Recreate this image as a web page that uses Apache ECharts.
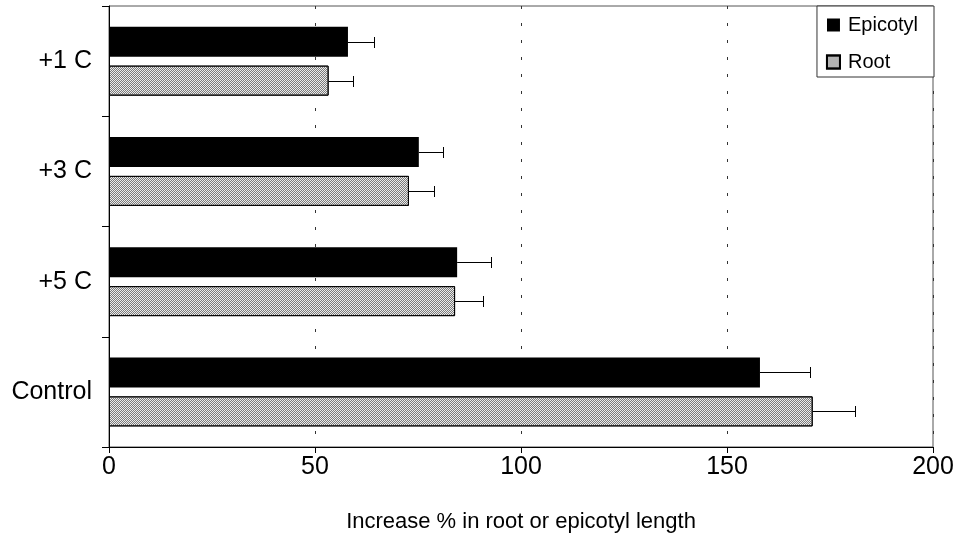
<!DOCTYPE html>
<html><head><meta charset="utf-8">
<script src="https://cdn.jsdelivr.net/npm/echarts@6/dist/echarts.min.js"></script>
<style>html,body{margin:0;padding:0;background:#fff}#c{width:957px;height:536px}</style>
</head><body><div id="c"></div><script>
const categories = ['Control', '+5 C', '+3 C', '+1 C'];
const epicotyl = [158.0, 84.5, 75.2, 58.0];
const epicotylErr = [12.2, 8.3, 5.9, 6.4];
const root = [170.8, 84.0, 72.8, 53.3];
const rootErr = [10.3, 6.7, 6.1, 6.0];
const seriesNames = ['Epicotyl', 'Root'];
const xAxisTitle = 'Increase % in root or epicotyl length';

const FONT = '"Liberation Sans", Arial, sans-serif';
const BAR_W = 30, GAP = 9;

function errSeries(name, vals, errs, sign) {
  return {
    type: 'custom', name: name + ' err', silent: true, z: 5,
    renderItem(params, api) {
      const cat = api.value(0), v = api.value(1), e = api.value(2);
      const c0 = api.coord([v, cat]);
      const c1 = api.coord([v + e, cat]);
      const y = Math.round(c0[1] + sign * (BAR_W + GAP) / 2) + 0.5;
      const xe = Math.round(c1[0]) + 0.5;
      const h = 5.5;
      return { type: 'group', children: [
        { type: 'line', shape: { x1: c0[0], y1: y, x2: xe, y2: y }, style: { stroke: '#000', lineWidth: 1 } },
        { type: 'line', shape: { x1: xe, y1: y - h, x2: xe, y2: y + h }, style: { stroke: '#000', lineWidth: 1 } }
      ]};
    },
    encode: { x: 1, y: 0 },
    data: vals.map((v, i) => [i, v, errs[i]])
  };
}

const chart = echarts.init(document.getElementById('c'), null, { renderer: 'canvas' });
chart.setOption({
  animation: false,
  backgroundColor: '#fff',
  textStyle: { fontFamily: FONT },
  grid: { left: 109, right: 24, top: 6, bottom: 89, containLabel: false, outerBoundsMode: 'none',
          show: true, borderColor: '#555', borderWidth: 1, backgroundColor: 'transparent' },
  legend: {
    orient: 'vertical', right: 23, top: 6,
    data: seriesNames,
    icon: 'rect', itemWidth: 13, itemHeight: 13, itemGap: 17,
    padding: [9, 16, 5, 9],
    backgroundColor: '#fff', borderColor: '#333', borderWidth: 1, borderRadius: 0,
    textStyle: { fontSize: 20, color: '#000', fontFamily: FONT, padding: [0, 0, 0, 3] }
  },
  xAxis: {
    type: 'value', min: 0, max: 200, interval: 50,
    name: xAxisTitle, nameLocation: 'middle', nameGap: 64,
    nameTextStyle: { fontSize: 22, color: '#000', fontFamily: FONT },
    axisLine: { show: true, lineStyle: { color: '#000', width: 1 } },
    axisTick: { show: true, length: 6, lineStyle: { color: '#000' } },
    axisLabel: { fontSize: 25, color: '#000', margin: 8, fontFamily: FONT },
    splitLine: { show: true, lineStyle: { color: '#333', type: [3, 14], width: 1 } }
  },
  yAxis: {
    type: 'category', data: categories,
    axisLine: { show: true, lineStyle: { color: '#000', width: 1 } },
    axisTick: { show: true, length: 7, lineStyle: { color: '#000' } },
    axisLabel: { fontSize: 25, color: '#000', margin: 17, fontFamily: FONT },
    splitLine: { show: false }
  },
  series: [
    {
      name: 'Epicotyl', type: 'bar', data: epicotyl, barWidth: BAR_W, barGap: (GAP / BAR_W * 100) + '%',
      itemStyle: { color: '#000' }, z: 2
    },
    {
      name: 'Root', type: 'bar', data: root, barWidth: BAR_W, barGap: (GAP / BAR_W * 100) + '%',
      itemStyle: {
        color: '#ebebeb', borderColor: '#000', borderWidth: 1,
        decal: { symbol: 'rect', symbolSize: 1, dashArrayX: [[1, 1], [0, 1, 1, 0]], dashArrayY: [1, 0], color: '#7a7a7a', rotation: 0 }
      }, z: 2
    },
    errSeries('Epicotyl', epicotyl, epicotylErr, -1),
    errSeries('Root', root, rootErr, 1)
  ]
});
</script></body></html>
